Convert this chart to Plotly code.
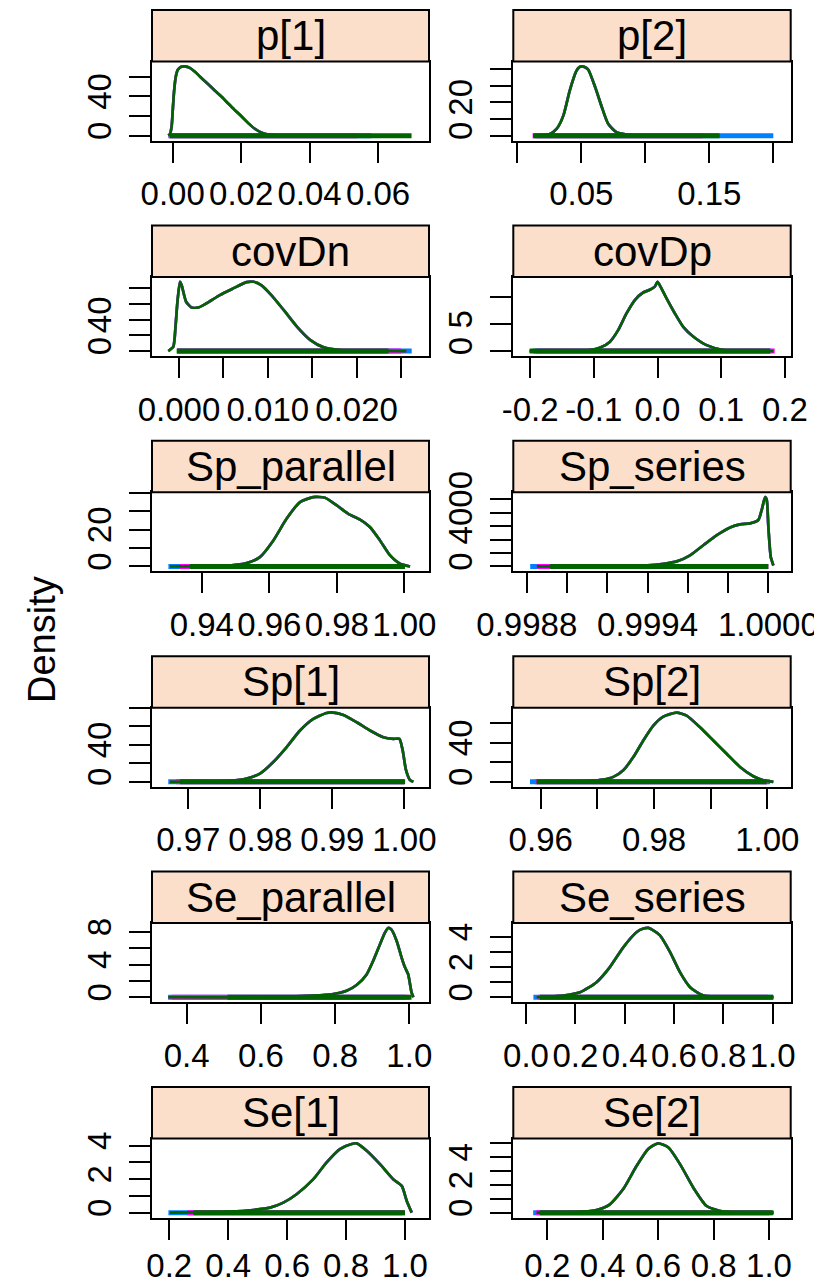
import plotly.graph_objects as go

# ---------------- data ----------------
names = ["p[1]", "p[2]", "covDn", "covDp", "Sp_parallel", "Sp_series",
         "Sp[1]", "Sp[2]", "Se_parallel", "Se_series", "Se[1]", "Se[2]"]

# density curves (x, y)
p1_x = [-0.0013, -0.0008, -0.0003, 0.0000, 0.0004, 0.0009, 0.0015, 0.0025, 0.0036, 0.0050, 0.0065,
        0.0080, 0.0100, 0.0120, 0.0140, 0.0160, 0.0180, 0.0200, 0.0220, 0.0240, 0.0260, 0.0280,
        0.0300, 0.0350, 0.0450, 0.0690]
p1_y = [0, 1.5, 10, 25, 45, 60, 67, 70, 70.5, 69, 65, 60, 53.5, 47, 40.5, 33.5, 26.5, 20, 13, 7, 3,
        1, 0.4, 0.1, 0.02, 0]
p2_x = [0.0125, 0.0200, 0.0255, 0.0307, 0.0360, 0.0410, 0.0460, 0.0485, 0.0505, 0.0530, 0.0555,
        0.0607, 0.0660, 0.0710, 0.0776, 0.0880, 0.1140, 0.1580]
p2_y = [0, 0.3, 1.0, 4, 12, 27, 38.5, 41.0, 41.5, 41.0, 39.5, 29.4, 17.2, 7.1, 2, 0.4, 0.1, 0]
covDn_x = [-0.0012, -0.00064, -0.00040, -0.00019, 0.00011, 0.0003, 0.0008, 0.0014, 0.0022, 0.0031,
           0.0046, 0.0061, 0.0076, 0.0084, 0.0093, 0.0104, 0.0118, 0.0133, 0.0148, 0.0163, 0.0181,
           0.0208, 0.0256]
covDn_y = [0, 5.5, 30, 61, 88.5, 84, 63, 55.7, 55.7, 61, 71.5, 80, 88, 88.5, 84, 71.5, 52.3, 31, 14,
           4.7, 1.3, 0.4, 0]
covDp_x = [-0.2007, -0.150, -0.106, -0.0907, -0.075, -0.0618, -0.0487, -0.0356, -0.0225, -0.012,
           -0.0042, 0.0, 0.0047, 0.0142, 0.0273, 0.0404, 0.056, 0.077, 0.103, 0.140, 0.182]
covDp_y = [0, 0.05, 0.2, 0.6, 1.7, 3.9, 7.0, 9.5, 10.9, 11.4, 12.0, 12.9, 12.0, 9.8, 7.0, 4.5, 2.7,
           1.1, 0.2, 0.05, 0]
sppar_x = [0.9306, 0.9400, 0.9483, 0.9533, 0.9572, 0.9612, 0.9651, 0.9691, 0.9730, 0.9765, 0.9800,
           0.9834, 0.9869, 0.9898, 0.9928, 0.9958, 0.9987, 1.0017]
sppar_y = [0, 0.1, 0.5, 1.8, 5.1, 14.2, 26, 35.1, 37.8, 37.5, 33.3, 28.7, 25.5, 21.5, 14.2, 6, 1.5, 0]
spser_x = [0.99885, 0.99910, 0.99940, 0.99948, 0.999545, 0.999611, 0.999677, 0.999744, 0.99981,
           0.99986, 0.999909, 0.99995, 0.999967, 0.999984, 0.999992, 1.0, 1.000012, 1.000025]
spser_y = [0, 10, 75, 200, 375, 825, 1575, 2325, 2900, 3125, 3200, 3450, 4200, 5150, 4950, 2950,
           700, 75]
sp1_x = [0.96745, 0.9720, 0.97579, 0.97810, 0.97995, 0.98180, 0.98366, 0.98551, 0.98736, 0.98921,
         0.99014, 0.99153, 0.99338, 0.99523, 0.99708, 0.99847, 0.99931, 0.99977, 1.00023, 1.00079,
         1.00125]
sp1_y = [0, 0.3, 1.1, 3.6, 9, 21.5, 37.7, 55.6, 68.2, 74.6, 75.1, 72.5, 64.6, 55.6, 48.4, 46.6, 46.6,
         34, 12.6, 1.8, 0]
sp2_x = [0.95928, 0.9640, 0.9687, 0.97105, 0.97282, 0.97458, 0.97635, 0.97811, 0.97988, 0.98164,
         0.98400, 0.98576, 0.98811, 0.99047, 0.99282, 0.99518, 0.99753, 0.99929, 1.00106]
sp2_y = [0, 0.3, 1, 2.4, 5.1, 11.9, 25.4, 42.4, 57.6, 66.8, 71.0, 67.8, 55.9, 42.4, 28.8, 15.3, 5.8,
         1.7, 0]
separ_x = [0.3504, 0.5615, 0.7412, 0.7951, 0.8311, 0.858, 0.885, 0.903, 0.921, 0.934, 0.943, 0.952,
           0.966, 0.979, 0.988, 0.997, 1.006, 1.011]
separ_y = [0, 0, 0.2, 0.4, 0.8, 1.5, 2.8, 4.5, 6.5, 7.9, 8.5, 8.3, 6.9, 4.9, 3.7, 2.8, 0.6, 0]
seser_x = [0.0432, 0.151, 0.219, 0.286, 0.340, 0.395, 0.449, 0.476, 0.496, 0.516, 0.543, 0.584,
           0.624, 0.665, 0.719, 0.827, 1.003]
seser_y = [0, 0.11, 0.33, 1.0, 2.0, 3.33, 4.33, 4.56, 4.6, 4.44, 4.11, 3.0, 1.67, 0.67, 0.11, 0.01, 0]
se1_x = [0.2023, 0.406, 0.485, 0.542, 0.587, 0.632, 0.689, 0.734, 0.779, 0.819, 0.836, 0.870, 0.915,
         0.960, 0.989, 1.006, 1.023]
se1_y = [0, 0.06, 0.16, 0.3, 0.6, 1.1, 2.0, 3.0, 3.8, 4.1, 4.14, 3.7, 2.9, 2.0, 1.6, 0.7, 0]
se2_x = [0.161, 0.318, 0.378, 0.426, 0.474, 0.523, 0.564, 0.600, 0.637, 0.679, 0.727, 0.775, 0.835,
         1.016]
se2_y = [0, 0.05, 0.19, 0.6, 1.7, 3.4, 4.6, 5.0, 4.7, 3.5, 1.8, 0.48, 0.07, 0]

curves_x = [p1_x, p2_x, covDn_x, covDp_x, sppar_x, spser_x, sp1_x, sp2_x, separ_x, seser_x, se1_x, se2_x]
curves_y = [p1_y, p2_y, covDn_y, covDp_y, sppar_y, spser_y, sp1_y, sp2_y, separ_y, seser_y, se1_y, se2_y]

# per-chain sample ranges (rug at y = 0): chain1 (blue), chain2 (magenta), chain3 (green)
rug_chain1 = [(-0.0012, 0.058), (0.014, 0.200), (-0.0002, 0.0262), (-0.195, 0.178),
              (0.9301, 0.9995), (0.998817, 0.99999), (0.96722, 0.99995), (0.95811, 1.0005),
              (0.350, 0.99), (0.030, 1.0), (0.197, 0.99), (0.149, 1.0)]
rug_chain2 = [(-0.0012, 0.054), (0.012, 0.145), (-0.0002, 0.0250), (-0.19, 0.184),
              (0.9335, 1.0), (0.99885, 1.0), (0.9683, 1.0), (0.9590, 1.0),
              (0.36, 1.0), (0.05, 0.98), (0.26, 1.0), (0.16, 1.01)]
rug_chain3 = [(-0.0008, 0.0698), (0.0125, 0.158), (-0.00026, 0.0236), (-0.2007, 0.1766),
              (0.9365, 1.0002), (0.998916, 1.0), (0.96884, 1.0001), (0.95928, 0.99988),
              (0.51, 1.006), (0.057, 1.003), (0.2815, 1.0), (0.173, 1.016)]

# axis ranges, ticks
x_ranges = [(-0.00605, 0.0749), (-0.0031, 0.2136), (-0.00304, 0.02815), (-0.2264, 0.2091),
            (0.92524, 1.00732), (0.998733, 1.000111), (0.96496, 1.00342), (0.95516, 1.00413),
            (0.3065, 1.0531), (-0.0515, 1.073), (0.1413, 1.0815), (0.0773, 1.0783)]
x_ticks = [[0.00, 0.02, 0.04, 0.06], [0.00, 0.05, 0.10, 0.15, 0.20],
           [0.000, 0.005, 0.010, 0.015, 0.020, 0.025], [-0.2, -0.1, 0.0, 0.1, 0.2],
           [0.94, 0.96, 0.98, 1.00], [0.9988, 0.9990, 0.9992, 0.9994, 0.9996, 0.9998, 1.0000],
           [0.97, 0.98, 0.99, 1.00], [0.96, 0.97, 0.98, 0.99, 1.00],
           [0.4, 0.6, 0.8, 1.0], [0.0, 0.2, 0.4, 0.6, 0.8, 1.0],
           [0.2, 0.4, 0.6, 0.8, 1.0], [0.2, 0.4, 0.6, 0.8, 1.0]]
x_labels = [["0.00", "0.02", "0.04", "0.06"], ["", "0.05", "", "0.15", ""],
            ["0.000", "", "0.010", "", "0.020", ""], ["-0.2", "-0.1", "0.0", "0.1", "0.2"],
            ["0.94", "0.96", "0.98", "1.00"], ["0.9988", "", "", "0.9994", "", "", "1.0000"],
            ["0.97", "0.98", "0.99", "1.00"], ["0.96", "", "0.98", "", "1.00"],
            ["0.4", "0.6", "0.8", "1.0"], ["0.0", "0.2", "0.4", "0.6", "0.8", "1.0"],
            ["0.2", "0.4", "0.6", "0.8", "1.0"], ["0.2", "0.4", "0.6", "0.8", "1.0"]]
y_ticks = [[0, 20, 40, 60], [0, 10, 20, 30, 40], [0, 20, 40, 60, 80], [0, 5, 10],
           [0, 10, 20, 30, 40], [0, 1000, 2000, 3000, 4000, 5000], [0, 20, 40, 60, 80],
           [0, 20, 40, 60], [0, 2, 4, 6, 8], [0, 1, 2, 3, 4, 5], [0, 1, 2, 3, 4], [0, 1, 2, 3, 4, 5]]
y_labels = [["0", "", "40", ""], ["0", "", "20", "", ""], ["0", "", "40", "", ""], ["0", "5", ""],
            ["0", "", "20", "", ""], ["0", "", "", "", "4000", ""], ["0", "", "40", "", ""],
            ["0", "", "40", ""], ["0", "", "4", "", "8"], ["0", "", "2", "", "4", ""],
            ["0", "", "2", "", "4"], ["0", "", "2", "", "4", ""]]

# ---------------- figure ----------------
PAGE_OFF = 8                      # default body margin of the html page
W, H = 822 - PAGE_OFF, 1285 - PAGE_OFF
BLUE, MAGENTA, GREEN = "#0080ff", "#ff00ff", "#006400"
STRIP = "#fbdfca"
FONT = "Liberation Sans, Arial, sans-serif"


def fx(px):
    return (px - PAGE_OFF) / W


def fy(py):
    return 1 - (py - PAGE_OFF) / H


col_px = [(152, 429), (513.3, 790.7)]
ROW0, ROW_PITCH, STRIP_H, PANEL_H = 10, 215.4, 51.5, 79
N_ROWS = 6

fig = go.Figure()
layout = dict(width=W, height=H, margin=dict(l=0, r=0, t=0, b=0, autoexpand=False),
              paper_bgcolor="white", plot_bgcolor="white", showlegend=False,
              font=dict(family=FONT, color="black"))
shapes, annotations = [], []

for i, name in enumerate(names):
    r, c = divmod(i, 2)
    x0p, x1p = col_px[c]
    top = ROW0 + ROW_PITCH * r
    sb = top + STRIP_H
    pb = sb + PANEL_H
    sfx = "" if i == 0 else str(i + 1)
    xa, ya = "x" + sfx, "y" + sfx

    ymax = max(curves_y[i])
    yr = (-0.07 * ymax, 1.07 * ymax)

    for rug, col in zip([rug_chain1, rug_chain2, rug_chain3], [BLUE, MAGENTA, GREEN]):
        lo, hi = rug[i]
        fig.add_trace(go.Scatter(x=[lo, hi], y=[0, 0], mode="lines", xaxis=xa, yaxis=ya,
                                 line=dict(color=col, width=5), hoverinfo="skip"))
        fig.add_trace(go.Scatter(x=curves_x[i], y=curves_y[i], mode="lines", xaxis=xa, yaxis=ya,
                                 line=dict(color=col, width=2.7, shape="spline", smoothing=0.6),
                                 hoverinfo="skip"))

    standoff = -2 if r == N_ROWS - 1 else 3
    layout["xaxis" + sfx] = dict(
        domain=[fx(x0p), fx(x1p)], anchor=ya, range=list(x_ranges[i]), automargin=False,
        tickmode="array", tickvals=x_ticks[i], ticktext=x_labels[i], tickangle=0,
        ticks="outside", ticklen=20, tickwidth=2, tickcolor="black", ticklabelstandoff=standoff,
        showline=True, linecolor="black", linewidth=2, mirror=True,
        showgrid=False, zeroline=False, tickfont=dict(size=33, family=FONT, color="black"))
    layout["yaxis" + sfx] = dict(
        domain=[fy(pb), fy(sb)], anchor=xa, range=list(yr), automargin=False,
        tickmode="array", tickvals=y_ticks[i], ticktext=y_labels[i], tickangle=-90,
        ticks="outside", ticklen=21, tickwidth=2, tickcolor="black", ticklabelstandoff=5,
        showline=True, linecolor="black", linewidth=2, mirror=True,
        showgrid=False, zeroline=False, tickfont=dict(size=33, family=FONT, color="black"))

    shapes.append(dict(type="rect", xref="paper", yref="paper",
                       x0=fx(x0p), x1=fx(x1p), y0=fy(sb), y1=fy(top),
                       fillcolor=STRIP, line=dict(color="black", width=2), layer="above"))
    annotations.append(dict(text=name, xref="paper", yref="paper",
                            x=fx((x0p + x1p) / 2), y=fy((top + sb) / 2),
                            xanchor="center", yanchor="middle", showarrow=False,
                            font=dict(size=42, family=FONT, color="black")))

annotations.append(dict(text="Density", xref="paper", yref="paper", x=fx(42), y=fy(640),
                        xanchor="center", yanchor="middle", showarrow=False, textangle=-90,
                        font=dict(size=38, family=FONT, color="black")))

layout["shapes"] = shapes
layout["annotations"] = annotations
fig.update_layout(**layout)
fig.write_html("out.html")
